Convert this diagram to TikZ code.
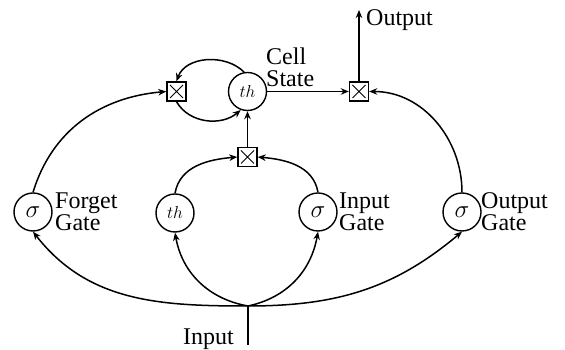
\documentclass[tikz,border=0pt]{standalone}
\usepackage{fontspec}
\setmainfont{Liberation Serif}
\usetikzlibrary{arrows.meta}
\begin{document}
\begin{tikzpicture}[x=1pt,y=1pt,
  every node/.style={font=\fontsize{24}{22}\selectfont},
  conn/.style={line width=1.5pt},
  arr/.style={conn,-{Stealth[length=8pt,width=6.5pt,inset=2.5pt]}},
  gate/.style={circle,draw,line width=1.4pt,minimum size=38pt,inner sep=0pt},
  mult/.style={rectangle,draw,line width=1.4pt,minimum size=19pt,inner sep=0pt,
     path picture={\draw[line width=1pt]
       ([shift={(3pt,3pt)}]path picture bounding box.south west) -- ([shift={(-3pt,-3pt)}]path picture bounding box.north east)
       ([shift={(3pt,-3pt)}]path picture bounding box.north west) -- ([shift={(-3pt,3pt)}]path picture bounding box.south east);}},
  lbl/.style={align=left,inner sep=0pt},
  small/.style={font=\fontsize{16}{16}\selectfont}
]
\useasboundingbox (0,0) rectangle (565,350);
% gates
\node[gate] (F) at (33,138) {$\sigma$};
\node[gate,small] (C) at (175,137) {$th$};
\node[gate] (IG) at (318,138) {$\sigma$};
\node[gate] (OG) at (462,138) {$\sigma$};
\node[gate,small] (S) at (247.5,258.5) {$th$};
% multipliers
\node[mult] (MF) at (176.5,258.5) {};
\node[mult] (MO) at (359,258.5) {};
\node[mult] (MI) at (247.5,193) {};
% coordinates
\coordinate (J) at (248,44);
\coordinate (inp) at (248,5);
\coordinate (out) at (359,340);
% labels
\node[lbl,anchor=west] (FL) at (55,138) {Forget\\Gate};
\node[lbl,anchor=west] (IL) at (339,138) {Input\\Gate};
\node[lbl,anchor=west] (OL) at (481,138) {Output\\Gate};
\node[lbl,anchor=south west] (SL) at (266,263) {Cell\\State};
\node[inner sep=0pt,anchor=base west] (OUTL) at (366,324) {Output};
\node[inner sep=0pt,anchor=base east] (INL) at (234,5) {Input};
% connectors
\draw[conn] (inp) -- (J);
\draw[arr] (J) to[out=180,in=-52] (F.south);
\draw[arr] (J) to[out=170,in=-80] (C.south);
\draw[arr] (J) to[out=12,in=-100] (IG.south);
\draw[arr] (J) to[out=0,in=-140] (OG.south);
\draw[arr] (F.north) to[out=73,in=185] (MF.west);
\draw[arr] (C.north) to[out=80,in=185] (MI.west);
\draw[arr] (IG.north) to[out=100,in=-5] (MI.east);
\draw[arr] (OG.north) to[out=90,in=0] (MO.east);
\draw[arr] (MI.north) -- (S.south);
\draw[arr] (S.east) -- (MO.west);
\draw[arr] (MO.north) -- (out);
\draw[arr] (S.100) to[out=135,in=70] (MF.north);
\draw[arr] (MF.south) to[out=-60,in=-140] (S.-110);
\end{tikzpicture}
\end{document}
